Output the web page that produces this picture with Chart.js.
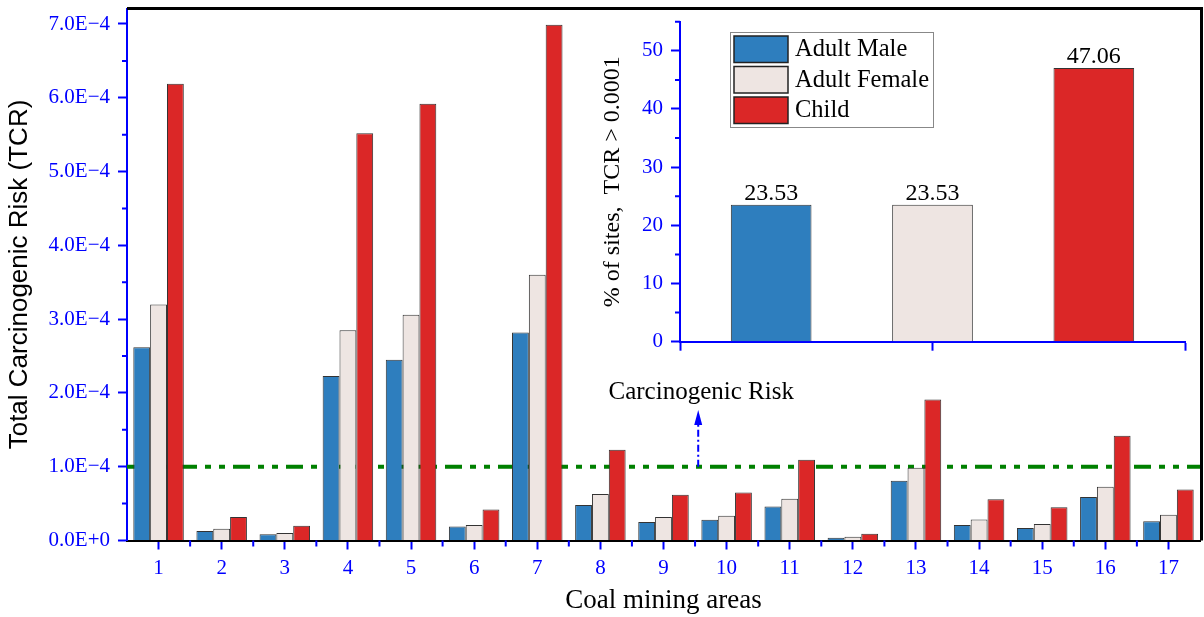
<!DOCTYPE html>
<html>
<head>
<meta charset="utf-8">
<script src="https://cdn.jsdelivr.net/npm/chart.js@4.4.1/dist/chart.umd.min.js"></script>
<style>
html, body { margin: 0; padding: 0; background: #fff; }
#wrap { position: relative; width: 1204px; height: 617px; }
#main { position: absolute; left: 0; top: 0; }
#inset { position: absolute; left: 560px; top: 0; }
</style>
</head>
<body>
<div id="wrap">
  <canvas id="main" width="1204" height="617"></canvas>
  <canvas id="inset" width="640" height="360"></canvas>
</div>
<script>
// data
var areas = ['1', '2', '3', '4', '5', '6', '7', '8', '9', '10', '11', '12', '13', '14', '15', '16', '17'];
var adultMale = [2.62e-4, 1.3e-5, 8.5e-6, 2.23e-4, 2.45e-4, 1.9e-5, 2.82e-4, 4.8e-5, 2.5e-5, 2.8e-5, 4.6e-5, 3.6e-6, 8.1e-5, 2.1e-5, 1.7e-5, 5.9e-5, 2.6e-5];
var adultFemale = [3.20e-4, 1.6e-5, 1.0e-5, 2.85e-4, 3.06e-4, 2.1e-5, 3.60e-4, 6.3e-5, 3.2e-5, 3.35e-5, 5.65e-5, 5.0e-6, 9.85e-5, 2.85e-5, 2.25e-5, 7.3e-5, 3.5e-5];
var child = [6.19e-4, 3.2e-5, 2.0e-5, 5.52e-4, 5.92e-4, 4.2e-5, 6.99e-4, 1.23e-4, 6.2e-5, 6.5e-5, 1.095e-4, 9.0e-6, 1.91e-4, 5.6e-5, 4.5e-5, 1.42e-4, 6.9e-5];
var yTickLabels = ['0.0E+0', '1.0E\u22124', '2.0E\u22124', '3.0E\u22124', '4.0E\u22124', '5.0E\u22124', '6.0E\u22124', '7.0E\u22124'];
var threshold = 1.0e-4;

var groups = ['Adult Male', 'Adult Female', 'Child'];
var sitesPercent = [23.53, 23.53, 47.06];
var insetTicks = [0, 10, 20, 30, 40, 50];

var blue = '#0000ff';
var colors = ['#2e7ebe', '#eee5e2', '#db2727'];
var serif = 'Liberation Serif';
Chart.defaults.font.family = serif;
Chart.defaults.color = '#000';

var mainDeco = {
  id: 'mainDeco',
  beforeDatasetsDraw: function(chart) {
    var ctx = chart.ctx, a = chart.chartArea;
    var y = chart.scales.y.getPixelForValue(threshold);
    ctx.save();
    ctx.strokeStyle = '#008000';
    ctx.lineWidth = 4;
    ctx.setLineDash([17, 8, 6, 8, 6, 8]);
    ctx.beginPath();
    ctx.moveTo(a.left, y);
    ctx.lineTo(a.right, y);
    ctx.stroke();
    ctx.restore();
  },
  afterDraw: function(chart) {
    var ctx = chart.ctx, a = chart.chartArea;
    var xs = chart.scales.x, ys = chart.scales.y;
    ctx.save();
    // frame top and right
    ctx.strokeStyle = '#000';
    ctx.lineWidth = 3;
    ctx.beginPath();
    ctx.moveTo(a.left, a.top);
    ctx.lineTo(a.right + 1.5, a.top);
    ctx.lineTo(a.right + 1.5, a.bottom);
    ctx.stroke();
    // minor ticks
    ctx.strokeStyle = blue;
    ctx.lineWidth = 2;
    ctx.beginPath();
    for (var i = 0; i < yTickLabels.length; i++) {
      var py = ys.getPixelForValue((i + 0.5) * 1e-4);
      if (py < a.top) continue;
      ctx.moveTo(a.left - 5, py);
      ctx.lineTo(a.left, py);
    }
    var band = xs.getPixelForValue(1) - xs.getPixelForValue(0);
    for (var j = 1; j < areas.length; j++) {
      var px = xs.getPixelForValue(j) - band / 2;
      ctx.moveTo(px, a.bottom);
      ctx.lineTo(px, a.bottom + 6);
    }
    ctx.stroke();
    // annotation
    var ty = ys.getPixelForValue(threshold);
    var ax = xs.getPixelForValue(8) + 0.55 * band;
    var tip = ys.getPixelForValue(1.77e-4);
    ctx.strokeStyle = blue;
    ctx.fillStyle = blue;
    ctx.lineWidth = 2;
    ctx.setLineDash([7, 3, 2, 3]);
    ctx.beginPath();
    ctx.moveTo(ax, ty);
    ctx.lineTo(ax, tip + 14);
    ctx.stroke();
    ctx.setLineDash([]);
    ctx.beginPath();
    ctx.moveTo(ax, tip);
    ctx.lineTo(ax - 4, tip + 15);
    ctx.lineTo(ax + 4, tip + 15);
    ctx.closePath();
    ctx.fill();
    ctx.fillStyle = '#000';
    ctx.font = '25px ' + serif;
    ctx.textAlign = 'center';
    ctx.textBaseline = 'middle';
    ctx.fillText('Carcinogenic Risk', ax + 3, ys.getPixelForValue(2.0e-4));
    ctx.restore();
  }
};

function bars(label, data, color) {
  return {
    label: label,
    data: data,
    backgroundColor: color,
    borderColor: '#333',
    borderWidth: 1,
    categoryPercentage: 0.8,
    barPercentage: 1.0
  };
}

new Chart(document.getElementById('main'), {
  type: 'bar',
  data: {
    labels: areas,
    datasets: [
      bars(groups[0], adultMale, colors[0]),
      bars(groups[1], adultFemale, colors[1]),
      bars(groups[2], child, colors[2])
    ]
  },
  options: {
    responsive: false,
    animation: false,
    layout: { padding: { top: 8.5, right: 4, left: 0, bottom: 0 } },
    plugins: { legend: { display: false }, tooltip: { enabled: false } },
    scales: {
      x: {
        offset: true,
        ticks: { color: blue, font: { size: 21 }, padding: 6, maxRotation: 0, autoSkip: false },
        grid: { drawOnChartArea: false, offset: false, tickLength: 9, tickColor: blue, tickWidth: 2 },
        border: { color: '#000', width: 2 },
        title: { display: true, text: 'Coal mining areas', color: '#000', font: { size: 27 }, padding: { top: 0, bottom: 0 } },
        afterFit: function(s) { s.height = 76.5; s.paddingLeft = 0; s.paddingRight = 0; }
      },
      y: {
        min: 0,
        max: 7.21e-4,
        ticks: {
          stepSize: 1e-4, includeBounds: false, color: blue, font: { size: 21 }, padding: 8,
          callback: function(v, i) { return yTickLabels[i]; }
        },
        grid: { drawOnChartArea: false, tickLength: 9, tickColor: blue, tickWidth: 2 },
        border: { color: blue, width: 2 },
        title: { display: true, text: 'Total Carcinogenic Risk (TCR)', color: '#000', font: { family: 'Liberation Sans', size: 26 }, padding: { top: 4, bottom: 0 } },
        afterFit: function(s) { s.width = 127; s.paddingTop = 0; s.paddingBottom = 0; }
      }
    }
  },
  plugins: [mainDeco]
});

var insetDeco = {
  id: 'insetDeco',
  afterDatasetsDraw: function(chart) {
    var ctx = chart.ctx;
    var meta = chart.getDatasetMeta(0);
    ctx.save();
    ctx.fillStyle = '#000';
    ctx.font = '24px ' + serif;
    ctx.textAlign = 'center';
    ctx.textBaseline = 'alphabetic';
    meta.data.forEach(function(bar, i) {
      ctx.fillText(sitesPercent[i].toFixed(2), bar.x, bar.y - 5);
    });
    ctx.restore();
  },
  afterDraw: function(chart) {
    var ctx = chart.ctx, a = chart.chartArea, ys = chart.scales.y;
    ctx.save();
    // minor ticks
    ctx.strokeStyle = blue;
    ctx.lineWidth = 2;
    ctx.beginPath();
    for (var i = 0; i < insetTicks.length; i++) {
      var py = ys.getPixelForValue(insetTicks[i] + 5);
      ctx.moveTo(a.left - 5, py);
      ctx.lineTo(a.left, py);
    }
    ctx.stroke();
    // legend
    var bx = a.left + 50, by = 32, bw = 203, bh = 95;
    ctx.strokeStyle = '#888';
    ctx.lineWidth = 1;
    ctx.strokeRect(bx + 0.5, by + 0.5, bw, bh);
    ctx.font = '24.5px ' + serif;
    ctx.textAlign = 'left';
    ctx.textBaseline = 'middle';
    for (var k = 0; k < groups.length; k++) {
      var ry = by + 4 + k * 30.5;
      ctx.fillStyle = colors[k];
      ctx.fillRect(bx + 4, ry, 54, 26.5);
      ctx.strokeStyle = '#222';
      ctx.lineWidth = 1.5;
      ctx.strokeRect(bx + 4, ry, 54, 26.5);
      ctx.fillStyle = '#000';
      ctx.fillText(groups[k], bx + 65, ry + 14);
    }
    ctx.restore();
  }
};

new Chart(document.getElementById('inset'), {
  type: 'bar',
  data: {
    datasets: [{
      label: '% of sites',
      data: groups.map(function(g, i) { return { x: i + 1, y: sitesPercent[i] }; }),
      backgroundColor: colors,
      borderColor: '#333',
      borderWidth: 1,
      categoryPercentage: 1,
      barPercentage: 0.5
    }]
  },
  options: {
    responsive: false,
    animation: false,
    layout: { padding: { top: 21.7, right: 15, left: 0, bottom: 0 } },
    plugins: { legend: { display: false }, tooltip: { enabled: false } },
    scales: {
      x: {
        type: 'linear',
        offset: false,
        min: 0.435,
        max: 3.565,
        afterBuildTicks: function(s) { s.ticks = [{ value: s.min }, { value: 2 }, { value: s.max }]; },
        ticks: { display: false },
        grid: { drawOnChartArea: false, offset: false, tickLength: 9, tickColor: blue, tickWidth: 2 },
        border: { color: blue, width: 2 },
        afterFit: function(s) { s.height = 18.3; s.paddingLeft = 0; s.paddingRight = 0; }
      },
      y: {
        min: 0,
        max: 55,
        afterBuildTicks: function(s) { s.ticks = insetTicks.map(function(v) { return { value: v }; }); },
        ticks: { color: blue, font: { size: 21 }, padding: 8 },
        grid: { drawOnChartArea: false, tickLength: 9, tickColor: blue, tickWidth: 2 },
        border: { color: blue, width: 2 },
        title: { display: true, text: '% of sites,  TCR > 0.0001', color: '#000', font: { size: 24 }, padding: { top: 38, bottom: 0 } },
        afterFit: function(s) { s.width = 120; s.paddingTop = 0; s.paddingBottom = 0; }
      }
    }
  },
  plugins: [insetDeco]
});
</script>
</body>
</html>
